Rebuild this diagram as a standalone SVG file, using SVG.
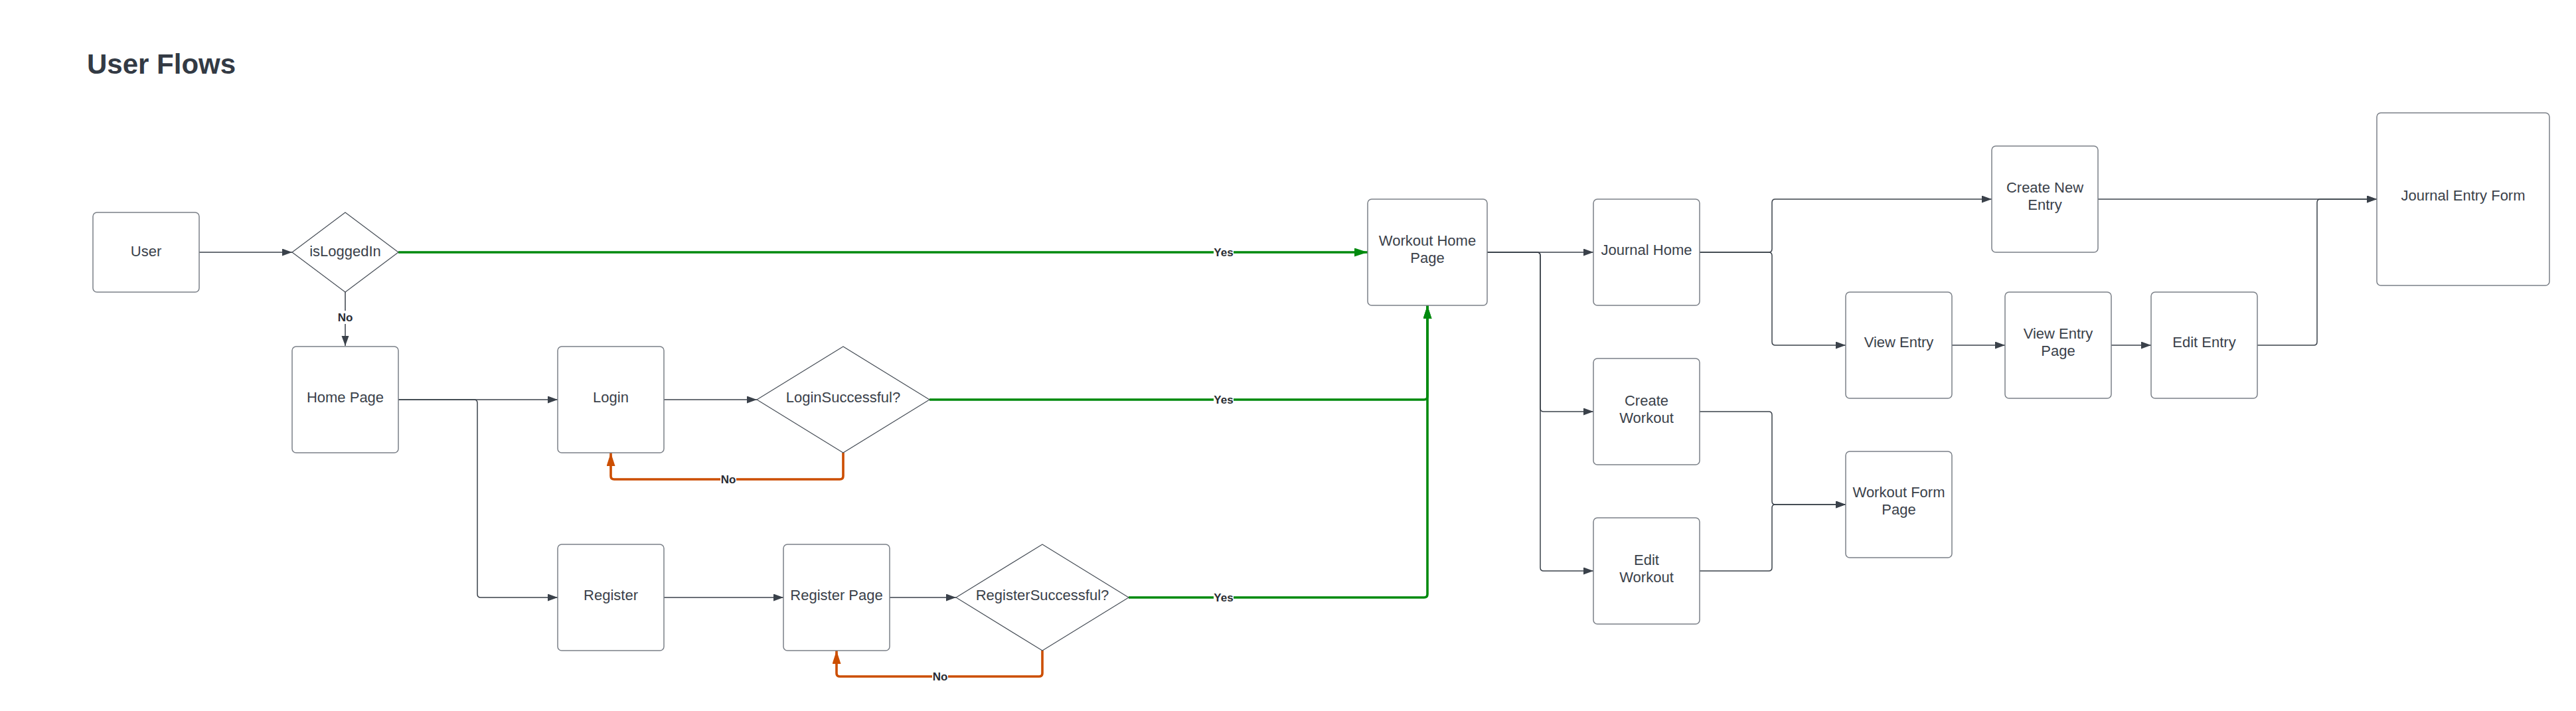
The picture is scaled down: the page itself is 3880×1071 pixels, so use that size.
<svg xmlns="http://www.w3.org/2000/svg" width="3880" height="1071" viewBox="0 0 3880 1071">
<defs>
<style>
.box{fill:#ffffff;stroke:#7b8088;stroke-width:1.5}
.dia{fill:#ffffff;stroke:#474e57;stroke-width:1.2;stroke-linejoin:round}
.t{font-family:"Liberation Sans",Arial,sans-serif;font-size:22px;fill:#3a414a;text-anchor:middle}
.lbl{font-family:"Liberation Sans",Arial,sans-serif;font-size:17px;font-weight:bold;fill:#282c33;text-anchor:middle}
.c{fill:none;stroke:#3a414a;stroke-width:1.5;marker-end:url(#ad)}
.g{fill:none;stroke:#008a0e;stroke-width:3.6;marker-end:url(#ag)}
.r{fill:none;stroke:#cc4e00;stroke-width:3.6;marker-end:url(#ar)}
.bg{fill:#ffffff}
</style>
<marker id="ad" markerUnits="userSpaceOnUse" markerWidth="16" markerHeight="12" refX="15" refY="5.5" orient="auto"><path d="M0,0 L15,5.5 L0,11 z" fill="#3a414a"/></marker>
<marker id="ag" markerUnits="userSpaceOnUse" markerWidth="21" markerHeight="14" refX="20" refY="6.5" orient="auto"><path d="M0,0 L20,6.5 L0,13 z" fill="#008a0e"/></marker>
<marker id="ar" markerUnits="userSpaceOnUse" markerWidth="21" markerHeight="14" refX="20" refY="6.5" orient="auto"><path d="M0,0 L20,6.5 L0,13 z" fill="#cc4e00"/></marker>
</defs>
<rect width="3880" height="1071" fill="#ffffff"/>
<text x="131" y="111" font-family="'Liberation Sans',Arial,sans-serif" font-size="42" font-weight="bold" fill="#333a44">User Flows</text>

<g id="connectors">
<path class="c" d="M300,380 H440"/>
<path class="c" d="M520,438 V521"/>
<path class="c" d="M600,602 H840"/>
<path class="c" d="M600,602 H714 Q719,602 719,607 V895 Q719,900 724,900 H840"/>
<path class="c" d="M1000,602 H1140"/>
<path class="c" d="M1000,900 H1180"/>
<path class="c" d="M1340,900 H1440"/>
<path class="c" d="M2240,380 H2400"/>
<path class="c" d="M2240,380 H2315 Q2320,380 2320,385 V615 Q2320,620 2325,620 H2400"/>
<path class="c" d="M2240,380 H2315 Q2320,380 2320,385 V855 Q2320,860 2325,860 H2400"/>
<path class="c" d="M2560,380 H2664 Q2669,380 2669,375 V305 Q2669,300 2674,300 H3000"/>
<path class="c" d="M2560,380 H2664 Q2669,380 2669,385 V515 Q2669,520 2674,520 H2780"/>
<path class="c" d="M2560,620 H2664 Q2669,620 2669,625 V755 Q2669,760 2674,760 H2780"/>
<path class="c" d="M2560,860 H2664 Q2669,860 2669,855 V765 Q2669,760 2674,760 H2780"/>
<path class="c" d="M3160,300 H3580"/>
<path class="c" d="M2940,520 H3020"/>
<path class="c" d="M3180,520 H3240"/>
<path class="c" d="M3400,520 H3485 Q3490,520 3490,515 V305 Q3490,300 3495,300 H3580"/>
<path class="g" d="M600,380 H2060"/>
<path class="g" d="M1400,602 H2145 Q2150,602 2150,597 V460"/>
<path class="g" d="M1700,900 H2145 Q2150,900 2150,895 V460"/>
<path class="r" d="M1270,682 V717 Q1270,722 1265,722 H925 Q920,722 920,717 V682"/>
<path class="r" d="M1570,980 V1014 Q1570,1019 1565,1019 H1265 Q1260,1019 1260,1014 V980"/>
<rect class="bg" x="508" y="468" width="24" height="20"/>
<text class="lbl" x="520" y="484">No</text>
<rect class="bg" x="1828" y="370" width="30" height="20"/>
<text class="lbl" x="1843" y="386">Yes</text>
<rect class="bg" x="1828" y="592" width="30" height="20"/>
<text class="lbl" x="1843" y="608">Yes</text>
<rect class="bg" x="1828" y="890" width="30" height="20"/>
<text class="lbl" x="1843" y="906">Yes</text>
<rect class="bg" x="1085" y="712" width="24" height="20"/>
<text class="lbl" x="1097" y="728">No</text>
<rect class="bg" x="1404" y="1009" width="24" height="20"/>
<text class="lbl" x="1416" y="1025">No</text>
</g>

<g id="user"><rect class="box" x="140" y="320" width="160" height="120" rx="6"/><text class="t" x="220" y="386">User</text></g>
<g id="isLoggedIn"><path class="dia" d="M440,380 L520,320 L600,380 L520,440 Z"/><text class="t" x="520" y="386">isLoggedIn</text></g>
<g id="homePage"><rect class="box" x="440" y="522" width="160" height="160" rx="6"/><text class="t" x="520" y="606">Home Page</text></g>
<g id="login"><rect class="box" x="840" y="522" width="160" height="160" rx="6"/><text class="t" x="920" y="606">Login</text></g>
<g id="loginSuccessful"><path class="dia" d="M1140,602 L1270,522 L1400,602 L1270,682 Z"/><text class="t" x="1270" y="606">LoginSuccessful?</text></g>
<g id="register"><rect class="box" x="840" y="820" width="160" height="160" rx="6"/><text class="t" x="920" y="904">Register</text></g>
<g id="registerPage"><rect class="box" x="1180" y="820" width="160" height="160" rx="6"/><text class="t" x="1260" y="904">Register Page</text></g>
<g id="registerSuccessful"><path class="dia" d="M1440,900 L1570,820 L1700,900 L1570,980 Z"/><text class="t" x="1570" y="904">RegisterSuccessful?</text></g>
<g id="workoutHomePage"><rect class="box" x="2060" y="300" width="180" height="160" rx="6"/><text class="t" x="2150" y="370">Workout Home</text><text class="t" x="2150" y="396">Page</text></g>
<g id="journalHome"><rect class="box" x="2400" y="300" width="160" height="160" rx="6"/><text class="t" x="2480" y="384">Journal Home</text></g>
<g id="createWorkout"><rect class="box" x="2400" y="540" width="160" height="160" rx="6"/><text class="t" x="2480" y="611">Create</text><text class="t" x="2480" y="637">Workout</text></g>
<g id="editWorkout"><rect class="box" x="2400" y="780" width="160" height="160" rx="6"/><text class="t" x="2480" y="851">Edit</text><text class="t" x="2480" y="877">Workout</text></g>
<g id="createNewEntry"><rect class="box" x="3000" y="220" width="160" height="160" rx="6"/><text class="t" x="3080" y="290">Create New</text><text class="t" x="3080" y="316">Entry</text></g>
<g id="viewEntry"><rect class="box" x="2780" y="440" width="160" height="160" rx="6"/><text class="t" x="2860" y="523">View Entry</text></g>
<g id="viewEntryPage"><rect class="box" x="3020" y="440" width="160" height="160" rx="6"/><text class="t" x="3100" y="510">View Entry</text><text class="t" x="3100" y="536">Page</text></g>
<g id="editEntry"><rect class="box" x="3240" y="440" width="160" height="160" rx="6"/><text class="t" x="3320" y="523">Edit Entry</text></g>
<g id="workoutFormPage"><rect class="box" x="2780" y="680" width="160" height="160" rx="6"/><text class="t" x="2860" y="749">Workout Form</text><text class="t" x="2860" y="775">Page</text></g>
<g id="journalEntryForm"><rect class="box" x="3580" y="170" width="260" height="260" rx="6"/><text class="t" x="3710" y="302">Journal Entry Form</text></g>
</svg>
